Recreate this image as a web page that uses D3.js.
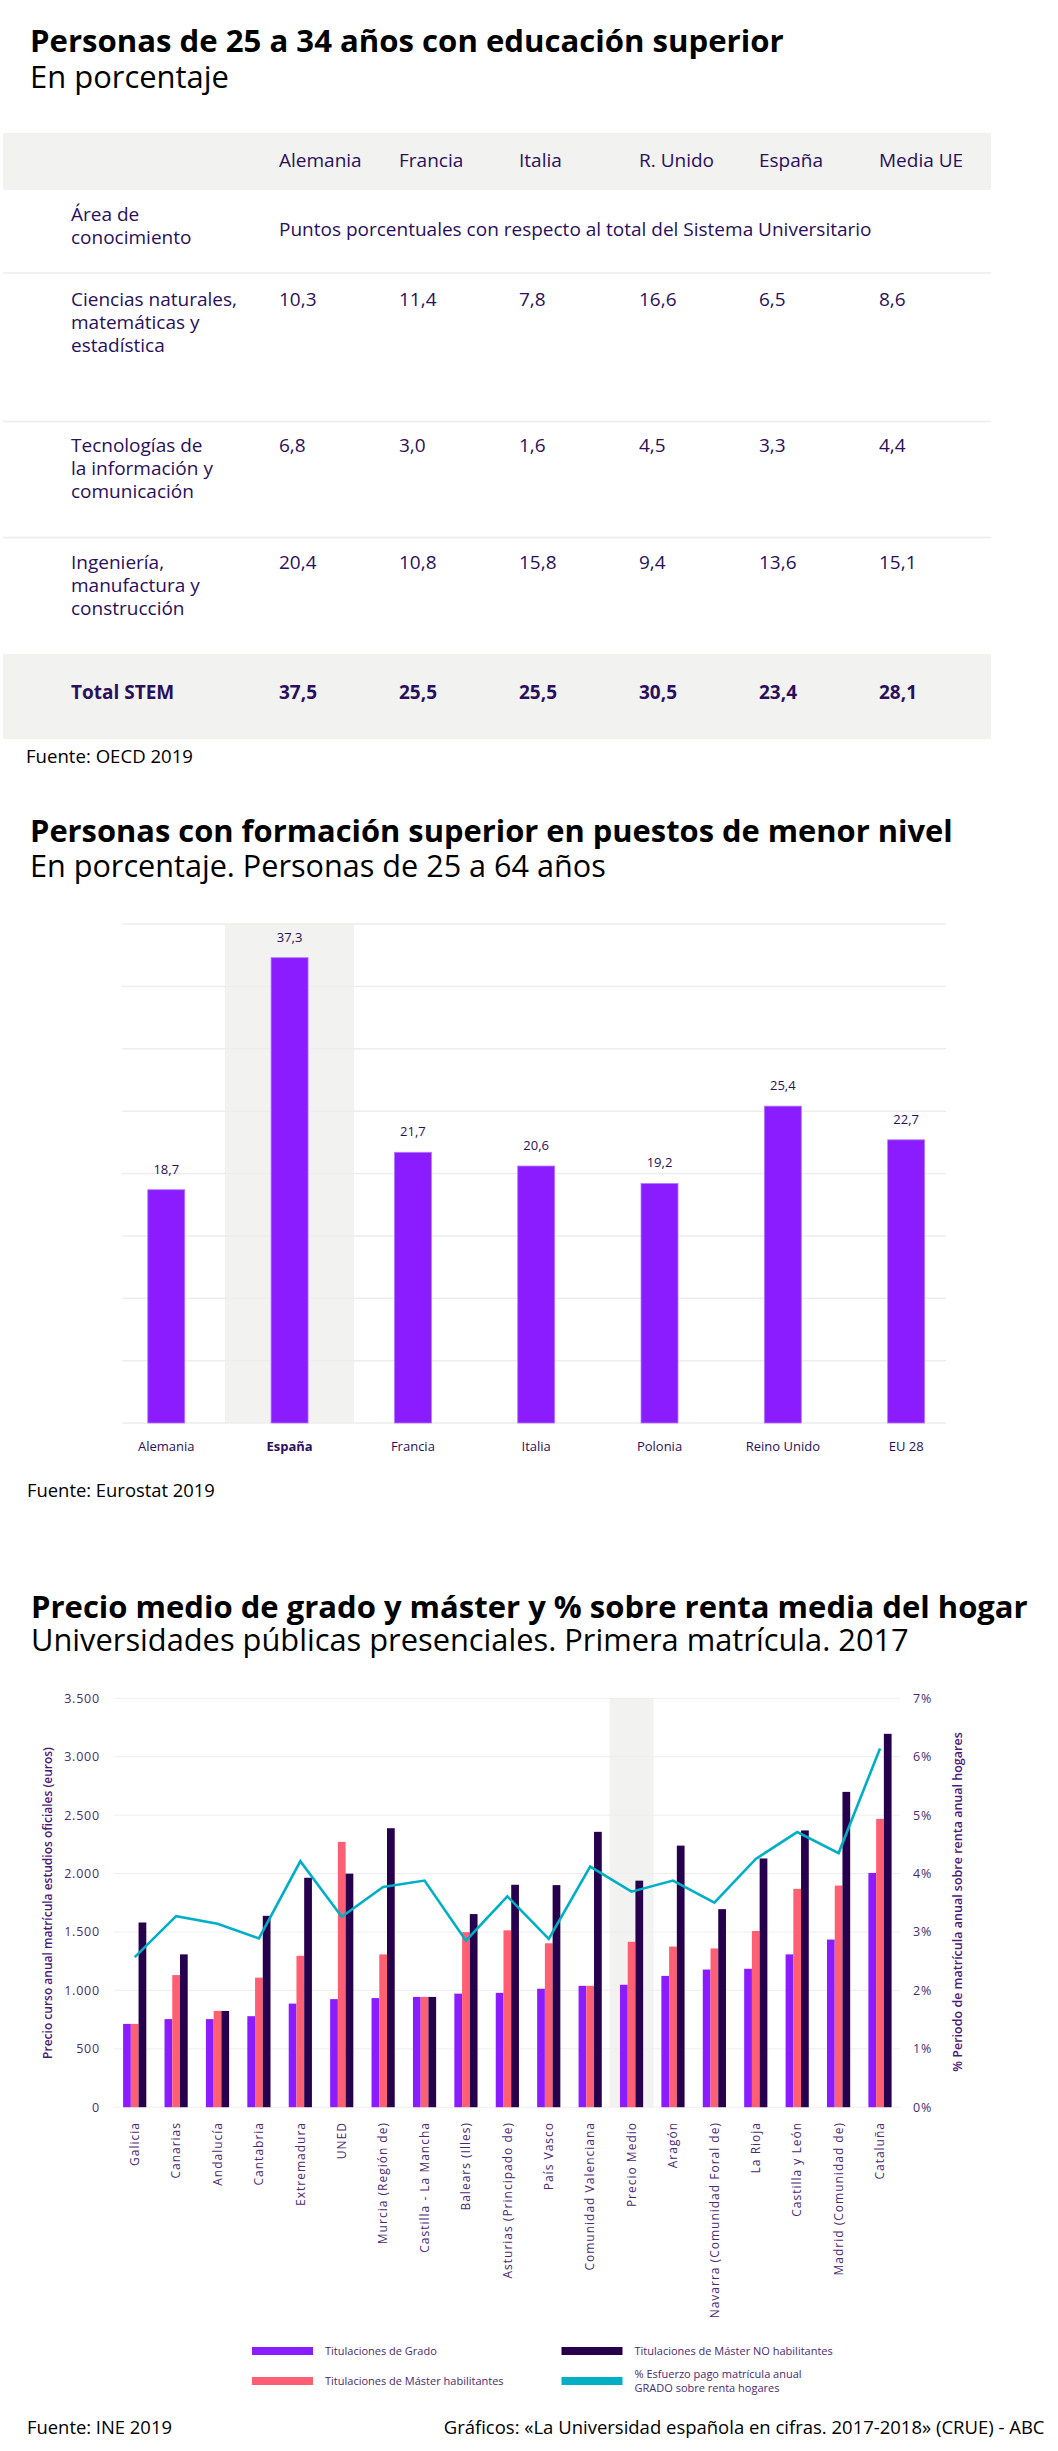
<!DOCTYPE html>
<html><head><meta charset="utf-8">
<script src="https://cdn.jsdelivr.net/npm/d3@7"></script>
<style>
html,body{margin:0;padding:0;background:#fff;}
svg{display:block;font-family:"Open Sans",sans-serif;}
</style></head><body>
<svg id="chart" width="1058" height="2451"></svg>
<script>
// ---------- DATA ----------
// Chart 1: table
const tableCountries = ["Alemania", "Francia", "Italia", "R. Unido", "España", "Media UE"];
const tableAreaLabels = [
  ["Ciencias naturales,", "matemáticas y", "estadística"],
  ["Tecnologías de", "la información y", "comunicación"],
  ["Ingeniería,", "manufactura y", "construcción"]
];
const cienciasValues   = [10.3, 11.4, 7.8, 16.6, 6.5, 8.6];
const tecnologiaValues = [6.8, 3.0, 1.6, 4.5, 3.3, 4.4];
const ingenieriaValues = [20.4, 10.8, 15.8, 9.4, 13.6, 15.1];
const totalStemValues  = [37.5, 25.5, 25.5, 30.5, 23.4, 28.1];

// Chart 2
const c2Countries = ["Alemania", "España", "Francia", "Italia", "Polonia", "Reino Unido", "EU 28"];
const c2Values = [18.7, 37.3, 21.7, 20.6, 19.2, 25.4, 22.7];
const c2Ticks = [0, 5, 10, 15, 20, 25, 30, 35, 40];

// Chart 3
const regions = ["Galicia", "Canarias", "Andalucía", "Cantabria", "Extremadura", "UNED",
  "Murcia (Región de)", "Castilla - La Mancha", "Balears (Illes)", "Asturias (Principado de)",
  "País Vasco", "Comunidad Valenciana", "Precio Medio", "Aragón", "Navarra (Comunidad Foral de)",
  "La Rioja", "Castilla y León", "Madrid (Comunidad de)", "Cataluña"];
const gradoValues       = [713, 754, 754, 779, 887, 925, 934, 944, 972, 979, 1014, 1039, 1048, 1124, 1178, 1185, 1308, 1435, 2005];
const masterHabValues   = [713, 1131, 824, 1109, 1296, 2271, 1308, 944, 1498, 1514, 1403, 1039, 1416, 1375, 1359, 1508, 1869, 1897, 2468];
const masterNoHabValues = [1581, 1308, 824, 1638, 1964, 1999, 2388, 944, 1653, 1904, 1901, 2357, 1939, 2239, 1695, 2129, 2369, 2699, 3196];
const esfuerzoValues    = [2.57, 3.27, 3.14, 2.89, 4.21, 3.26, 3.77, 3.88, 2.85, 3.61, 2.88, 4.12, 3.69, 3.88, 3.50, 4.25, 4.71, 4.35, 6.14];
const leftTicks  = [0, 500, 1000, 1500, 2000, 2500, 3000, 3500];
const rightTicks = [0, 1, 2, 3, 4, 5, 6, 7];
const seriesKeys = ["grado", "masterHab", "masterNoHab"];
const legendLabels = ["Titulaciones de Grado", "Titulaciones de Máster habilitantes",
  "Titulaciones de Máster NO habilitantes", ["% Esfuerzo pago matrícula anual", "GRADO sobre renta hogares"]];

// ---------- HELPERS ----------
const esLocale = d3.formatLocale({decimal: ",", thousands: ".", grouping: [3], currency: ["", "€"]});
const fmt1 = esLocale.format(".1f");
const fmtThousands = esLocale.format(",d");

const svg = d3.select("#chart");
svg.append("rect").attr("width", 1058).attr("height", 2451).attr("fill", "#fff");

const INK = "#2a0f5c";
const AXIS_INK = "#4a2a72";
const PURPLE = "#8b1cff", PINK = "#ff5f73", DARK = "#26004d", CYAN = "#00afc6";
const BAND = "#f2f2f0";

function fitText(sel, target) {
  const w = sel.node().getComputedTextLength();
  const fs = parseFloat(sel.attr("font-size"));
  if (w > 0) sel.attr("font-size", (fs * target / w).toFixed(2));
  return sel;
}
function heading(title, sub, x, yTitle, ySub, wTitle, wSub) {
  const t = svg.append("text").attr("x", x).attr("y", yTitle).attr("font-size", 28)
    .attr("font-weight", 700).attr("fill", "#000").text(title);
  fitText(t, wTitle);
  const s = svg.append("text").attr("x", x).attr("y", ySub).attr("font-size", 27)
    .attr("fill", "#000").text(sub);
  fitText(s, wSub);
}
function footer(txt, x, y, anchor, w) {
  const t = svg.append("text").attr("x", x).attr("y", y).attr("font-size", 17)
    .attr("text-anchor", anchor || "start").attr("fill", "#000").text(txt);
  if (w) fitText(t, w);
  return t;
}

// ---------- CHART 1: TABLE ----------
heading("Personas de 25 a 34 años con educación superior", "En porcentaje", 30, 52, 88, 754, 199);

const colX = d3.scalePoint().domain(tableCountries).range([279, 879]);
const g1 = svg.append("g").attr("font-size", 19).attr("fill", INK);

g1.append("rect").attr("x", 3).attr("y", 133).attr("width", 988).attr("height", 57).attr("fill", BAND);
g1.append("rect").attr("x", 3).attr("y", 654).attr("width", 988).attr("height", 85).attr("fill", BAND);
[273, 421.5, 537.5].forEach(y => {
  g1.append("line").attr("x1", 3).attr("x2", 991).attr("y1", y).attr("y2", y)
    .attr("stroke", "#ececec").attr("stroke-width", 1.5);
});

g1.selectAll("text.hdr").data(tableCountries).join("text").attr("class", "hdr")
  .attr("x", d => colX(d)).attr("y", 167).text(d => d);

g1.append("text").attr("x", 71).attr("y", 220.5).text("Área de");
g1.append("text").attr("x", 71).attr("y", 243.5).text("conocimiento");
g1.append("text").attr("x", colX(tableCountries[0])).attr("y", 236)
  .text("Puntos porcentuales con respecto al total del Sistema Universitario");

const rowSeries = [cienciasValues, tecnologiaValues, ingenieriaValues];
const rowTop = [305.5, 452, 568.5];
rowSeries.forEach((vals, r) => {
  tableAreaLabels[r].forEach((ln, i) => {
    g1.append("text").attr("x", 71).attr("y", rowTop[r] + i * 23.2).text(ln);
  });
  g1.selectAll(null).data(vals).join("text")
    .attr("x", (d, i) => colX(tableCountries[i])).attr("y", rowTop[r]).text(d => fmt1(d));
});
g1.append("text").attr("x", 71).attr("y", 699).attr("font-weight", 700).text("Total STEM");
g1.selectAll(null).data(totalStemValues).join("text")
  .attr("x", (d, i) => colX(tableCountries[i])).attr("y", 699).attr("font-weight", 700)
  .text(d => fmt1(d));

footer("Fuente: OECD 2019", 26, 763, "start", 167);

// ---------- CHART 2 ----------
heading("Personas con formación superior en puestos de menor nivel",
  "En porcentaje. Personas de 25 a 64 años", 30, 842, 877, 923, 576);

const x2 = d3.scaleBand().domain(c2Countries).range([104.6, 967.8]).paddingInner(0.7).paddingOuter(0.35);
const y2 = d3.scaleLinear().domain([0, 40]).range([1423, 924]);
const g2 = svg.append("g");

g2.append("rect").attr("x", x2("España") + x2.bandwidth() / 2 - 64.5).attr("y", y2(40))
  .attr("width", 129).attr("height", y2(0) - y2(40)).attr("fill", BAND);
g2.selectAll("line.grid").data(c2Ticks).join("line").attr("class", "grid")
  .attr("x1", 122).attr("x2", 946).attr("y1", d => y2(d)).attr("y2", d => y2(d))
  .attr("stroke", "#ededed").attr("stroke-width", 1.5);
g2.selectAll("rect.bar").data(c2Values).join("rect").attr("class", "bar")
  .attr("x", (d, i) => x2(c2Countries[i])).attr("width", x2.bandwidth())
  .attr("y", d => y2(d)).attr("height", d => y2(0) - y2(d))
  .attr("fill", PURPLE).attr("stroke", "#b27cff").attr("stroke-width", 0.8);
g2.selectAll("text.val").data(c2Values).join("text").attr("class", "val")
  .attr("x", (d, i) => x2(c2Countries[i]) + x2.bandwidth() / 2).attr("y", d => y2(d) - 16)
  .attr("text-anchor", "middle").attr("font-size", 13).attr("fill", INK).text(d => fmt1(d));
g2.selectAll("text.xl").data(c2Countries).join("text").attr("class", "xl")
  .attr("x", d => x2(d) + x2.bandwidth() / 2).attr("y", 1451)
  .attr("text-anchor", "middle").attr("font-size", 13).attr("fill", INK)
  .attr("font-weight", d => d === "España" ? 700 : 400).text(d => d);

footer("Fuente: Eurostat 2019", 27, 1497, "start", 188);

// ---------- CHART 3 ----------
heading("Precio medio de grado y máster y % sobre renta media del hogar",
  "Universidades públicas presenciales. Primera matrícula. 2017", 31, 1618, 1651, 997, 878);

const x3 = d3.scaleBand().domain(regions).range([114, 900.7]).paddingInner(0.44).paddingOuter(0.22);
const xs = d3.scaleBand().domain(seriesKeys).range([0, x3.bandwidth()]);
const y3 = d3.scaleLinear().domain([0, 3500]).range([2107.2, 1698.3]);
const y3r = d3.scaleLinear().domain([0, 7]).range([2107.2, 1698.3]);
const g3 = svg.append("g");
const cx = r => x3(r) + x3.bandwidth() / 2;

g3.append("rect").attr("x", cx("Precio Medio") - 22).attr("y", y3(3500))
  .attr("width", 44).attr("height", y3(0) - y3(3500)).attr("fill", BAND);
g3.selectAll("line.grid").data(leftTicks).join("line").attr("class", "grid")
  .attr("x1", 114).attr("x2", 900).attr("y1", d => y3(d)).attr("y2", d => y3(d))
  .attr("stroke", "#efedf0").attr("stroke-width", 1);

const seriesData = {grado: gradoValues, masterHab: masterHabValues, masterNoHab: masterNoHabValues};
const seriesColor = {grado: PURPLE, masterHab: PINK, masterNoHab: DARK};
seriesKeys.forEach(k => {
  g3.selectAll(null).data(seriesData[k]).join("rect")
    .attr("x", (d, i) => x3(regions[i]) + xs(k)).attr("width", xs.bandwidth())
    .attr("y", d => y3(d)).attr("height", d => y3(0) - y3(d)).attr("fill", seriesColor[k]);
});

const line = d3.line().x((d, i) => cx(regions[i])).y(d => y3r(d));
g3.append("path").datum(esfuerzoValues).attr("d", line).attr("fill", "none")
  .attr("stroke", CYAN).attr("stroke-width", 2.6).attr("stroke-linejoin", "miter");

// left axis
g3.selectAll("text.lt").data(leftTicks).join("text").attr("class", "lt")
  .attr("x", 100).attr("y", d => y3(d)).attr("dy", "0.35em").attr("text-anchor", "end")
  .attr("font-size", 12.5).attr("letter-spacing", 0.8).attr("fill", AXIS_INK)
  .text(d => fmtThousands(d));
// right axis
g3.selectAll("text.rt").data(rightTicks).join("text").attr("class", "rt")
  .attr("x", 913).attr("y", d => y3r(d)).attr("dy", "0.35em").attr("text-anchor", "start")
  .attr("font-size", 12.5).attr("letter-spacing", 0.8).attr("fill", AXIS_INK)
  .text(d => d + "%");
// axis titles
g3.append("text").attr("transform", "translate(52,1903) rotate(-90)").attr("text-anchor", "middle")
  .attr("font-size", 12).attr("font-weight", 600).attr("fill", "#4a1a7a")
  .text("Precio curso anual matrícula estudios oficiales (euros)");
g3.append("text").attr("transform", "translate(962,1902) rotate(-90)").attr("text-anchor", "middle")
  .attr("font-size", 12.5).attr("font-weight", 600).attr("fill", "#4a1a7a")
  .text("% Periodo de matrícula anual sobre renta anual hogares");
// x labels
g3.selectAll("text.xl").data(regions).join("text").attr("class", "xl")
  .attr("transform", d => `translate(${cx(d)},2122) rotate(-90)`)
  .attr("dy", "0.35em").attr("text-anchor", "end")
  .attr("font-size", 12).attr("letter-spacing", 1).attr("fill", AXIS_INK).text(d => d);

// legend
const legendColors = [PURPLE, PINK, DARK, CYAN];
const legendPos = [[252, 2347], [252, 2377], [561.5, 2347], [561.5, 2377]];
legendLabels.forEach((lab, i) => {
  const [lx, ly] = legendPos[i];
  g3.append("rect").attr("x", lx).attr("y", ly).attr("width", 61).attr("height", 8).attr("fill", legendColors[i]);
  const lines = Array.isArray(lab) ? lab : [lab];
  lines.forEach((ln, j) => {
    g3.append("text").attr("x", lx + 73).attr("y", ly + 4 + (j - (lines.length - 1) / 2) * 14)
      .attr("dy", "0.35em").attr("font-size", 11).attr("fill", AXIS_INK).text(ln);
  });
});

footer("Fuente: INE 2019", 27, 2434, "start", 145);
footer("Gráficos: «La Universidad española en cifras. 2017-2018» (CRUE) - ABC", 1044.5, 2434, "end", 601);
</script>
</body></html>
